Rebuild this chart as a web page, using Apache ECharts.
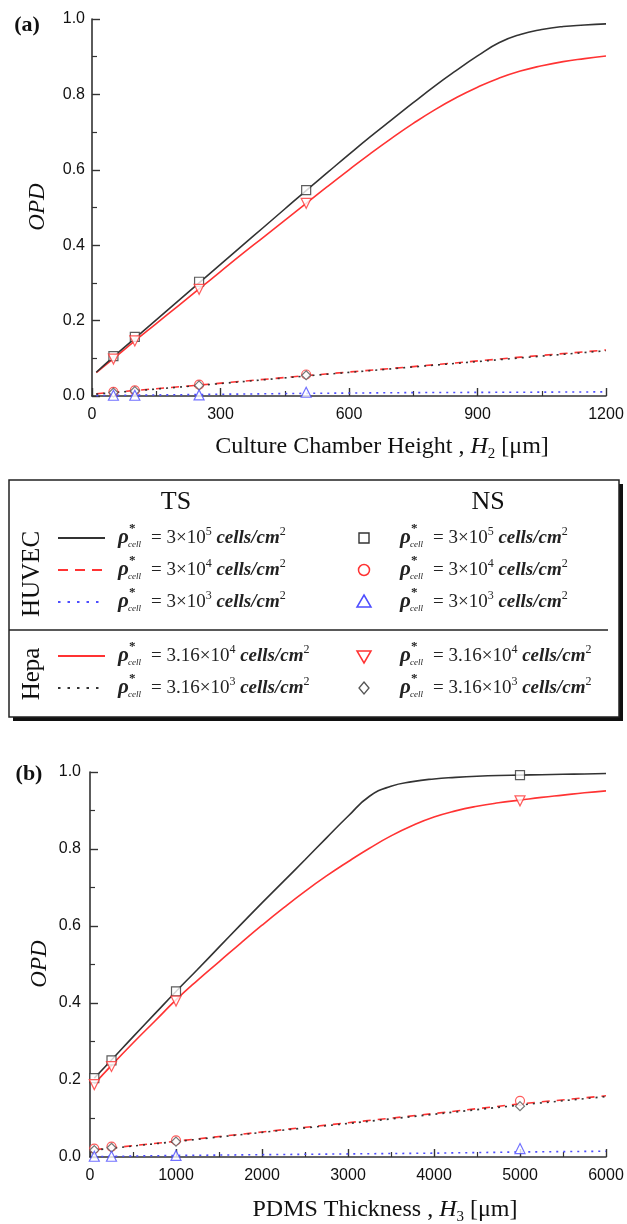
<!DOCTYPE html>
<html>
<head>
<meta charset="utf-8">
<title>OPD vs chamber height and PDMS thickness</title>
<script src="https://cdn.jsdelivr.net/npm/echarts@6/dist/echarts.min.js"></script>
<style>
  html, body { margin: 0; padding: 0; background: #fff; }
  #chart { width: 627px; height: 1224px; }
</style>
</head>
<body>
<div id="chart"></div>
<script>
// ---- (a) culture chamber height H2 [um] ----
const tsXA = [10, 50, 100, 150, 200, 250, 300, 350, 400, 450, 500, 550, 600, 650, 700, 750, 800, 850, 900, 950, 1000, 1050, 1100, 1150, 1200];
const huvec5TsA = [0.063, 0.104, 0.153, 0.202, 0.251, 0.300, 0.349, 0.398, 0.447, 0.496, 0.545, 0.593, 0.641, 0.688, 0.733, 0.778, 0.822, 0.863, 0.902, 0.937, 0.959, 0.972, 0.980, 0.984, 0.987];
const hepa4TsA = [0.062, 0.099, 0.146, 0.192, 0.238, 0.284, 0.330, 0.376, 0.421, 0.466, 0.511, 0.556, 0.600, 0.643, 0.684, 0.723, 0.759, 0.791, 0.819, 0.843, 0.862, 0.876, 0.887, 0.895, 0.902];
const lowXA = [10, 250, 500, 750, 1000, 1200];
const huvec4TsA = [0.006, 0.029, 0.054, 0.078, 0.103, 0.122];
const huvec3TsA = [0.001, 0.004, 0.007, 0.009, 0.010, 0.011];
const hepa3TsA = [0.005, 0.028, 0.053, 0.077, 0.101, 0.120];
const nsXA = [50, 100, 250, 500];
const huvec5NsA = [0.106, 0.157, 0.303, 0.546];
const huvec4NsA = [0.011, 0.015, 0.030, 0.057];
const huvec3NsA = [0.002, 0.002, 0.003, 0.010];
const hepa4NsA = [0.098, 0.146, 0.283, 0.511];
const hepa3NsA = [0.009, 0.013, 0.028, 0.055];

// ---- (b) PDMS thickness H3 [um] ----
const tsXB = [50, 250, 500, 750, 1000, 1250, 1500, 1750, 2000, 2250, 2500, 2750, 3000, 3250, 3500, 3750, 4000, 4250, 4500, 4750, 5000, 5250, 5500, 5750, 6000];
const huvec5TsB = [0.205, 0.252, 0.312, 0.371, 0.430, 0.487, 0.545, 0.603, 0.660, 0.716, 0.772, 0.829, 0.885, 0.937, 0.963, 0.975, 0.982, 0.986, 0.989, 0.991, 0.992, 0.993, 0.994, 0.995, 0.996];
const hepa4TsB = [0.190, 0.238, 0.296, 0.352, 0.408, 0.459, 0.507, 0.555, 0.602, 0.647, 0.690, 0.730, 0.767, 0.802, 0.834, 0.861, 0.883, 0.899, 0.911, 0.920, 0.927, 0.934, 0.940, 0.946, 0.951];
const lowXB = [50, 1000, 2000, 3000, 4000, 5000, 6000];
const huvec4TsB = [0.019, 0.041, 0.065, 0.089, 0.113, 0.138, 0.159];
const huvec3TsB = [0.001, 0.004, 0.006, 0.008, 0.010, 0.013, 0.015];
const hepa3TsB = [0.018, 0.040, 0.064, 0.087, 0.111, 0.135, 0.157];
const nsXB = [50, 250, 1000, 5000];
const huvec5NsB = [0.205, 0.251, 0.430, 0.992];
const huvec4NsB = [0.022, 0.027, 0.043, 0.146];
const huvec3NsB = [0.002, 0.002, 0.004, 0.022];
const hepa4NsB = [0.188, 0.235, 0.405, 0.925];
const hepa3NsB = [0.018, 0.024, 0.040, 0.132];

// legend texts
const legendMantissa = ['3', '3', '3', '3.16', '3.16'];
const legendExponent = ['5', '4', '3', '4', '3'];

const BLACK = '#333';
const RED = '#ff3333';
const BLUE = '#4d4dff';
const GRAY = '#555';
const SERIF = '"Liberation Serif", "DejaVu Serif", serif';
const SANS = '"Liberation Sans", Arial, sans-serif';

const zip = (xs, ys) => xs.map((x, i) => [x, ys[i]]);

function curve(xs, ys, color, dash, ai, smooth, z) {
  return {
    type: 'line', xAxisIndex: ai, yAxisIndex: ai,
    data: zip(xs, ys), symbol: 'none', smooth: smooth, silent: true, z: z || 2,
    lineStyle: { color: color, width: 1.6, type: dash }
  };
}
function marks(xs, ys, symbol, color, ai, rot, size) {
  return {
    type: 'scatter', xAxisIndex: ai, yAxisIndex: ai,
    data: zip(xs, ys), symbol: symbol, symbolSize: size || 9, symbolRotate: rot || 0,
    silent: true, z: 5,
    itemStyle: { color: '#fff', borderColor: color, borderWidth: 1.2 }
  };
}

function xAxisDef(ai, max, interval) {
  return {
    type: 'value', gridIndex: ai, min: 0, max: max, interval: interval,
    axisLine: { show: true, onZero: false, lineStyle: { color: BLACK, width: 1.6 } },
    axisTick: { show: true, inside: true, length: 8, lineStyle: { color: BLACK, width: 1.4 } },
    minorTick: { show: true, splitNumber: 2, length: 5, lineStyle: { color: BLACK, width: 1.2 } },
    axisLabel: { color: '#111', fontFamily: SANS, fontSize: 16, margin: 11, formatter: v => String(v) },
    splitLine: { show: false }
  };
}
function yAxisDef(ai, margin) {
  return {
    type: 'value', gridIndex: ai, min: 0, max: 1, interval: 0.2,
    axisLine: { show: true, onZero: false, lineStyle: { color: BLACK, width: 1.6 } },
    axisTick: { show: true, inside: true, length: 8, lineStyle: { color: BLACK, width: 1.4 } },
    minorTick: { show: true, splitNumber: 2, length: 5, lineStyle: { color: BLACK, width: 1.2 } },
    axisLabel: { color: '#111', fontFamily: SANS, fontSize: 16, margin: margin, formatter: v => v.toFixed(1) },
    splitLine: { show: false }
  };
}

function txt(x, y, text, opts) {
  const s = Object.assign({
    text: text, fontFamily: SERIF, fontSize: 24, fill: '#111',
    align: 'center', verticalAlign: 'middle', textAlign: 'center', textVerticalAlign: 'middle'
  }, opts || {});
  return { type: 'text', x: x, y: y, rotation: s.rot || 0, silent: true, style: s };
}

// rho*_cell = m x 10^e cells/cm^2
function rhoLabel(x, y, mant, exp) {
  const left = { align: 'left', textAlign: 'left' };
  return [
    txt(x, y, 'ρ', Object.assign({ fontSize: 21, fontStyle: 'italic', fontWeight: 'bold', fill: '#222' }, left)),
    txt(x + 11, y - 9, '*', Object.assign({ fontSize: 13, fontWeight: 'bold', fill: '#222' }, left)),
    txt(x + 10, y + 7, 'cell', Object.assign({ fontSize: 9, fontStyle: 'italic', fill: '#222' }, left)),
    txt(x + 33, y, '= ' + mant + '×10{sup|' + exp + '} {it|cells/cm}{sup|2}', Object.assign({
      fontSize: 19, fill: '#222', lineHeight: 24,
      rich: {
        sup: { fontFamily: SERIF, fontSize: 12, lineHeight: 12, verticalAlign: 'top', fill: '#222' },
        it: { fontFamily: SERIF, fontSize: 19, lineHeight: 24, fontStyle: 'italic', fontWeight: 'bold', fill: '#222' }
      }
    }, left))
  ];
}

function sampleLine(y, color, dash) {
  return { type: 'line', silent: true, shape: { x1: 58, y1: y, x2: 105, y2: y },
    style: { stroke: color, lineWidth: 1.8, lineDash: dash } };
}

const rowY = [538, 570, 602, 656, 688];
const symX = 364;
const legendEls = [
  { type: 'rect', silent: true, shape: { x: 13, y: 484, width: 610, height: 237 }, style: { fill: '#111' } },
  { type: 'rect', silent: true, shape: { x: 9, y: 480, width: 610, height: 237 }, style: { fill: '#fff', stroke: '#222', lineWidth: 1.5 } },
  { type: 'line', silent: true, shape: { x1: 9, y1: 630, x2: 608, y2: 630 }, style: { stroke: '#222', lineWidth: 1.5 } },
  txt(176, 502, 'TS', { fontSize: 26 }),
  txt(488, 502, 'NS', { fontSize: 26 }),
  txt(32, 574, 'HUVEC', { fontSize: 25, rot: Math.PI / 2 }),
  txt(32, 674, 'Hepa', { fontSize: 25, rot: Math.PI / 2 }),
  sampleLine(rowY[0], BLACK, null),
  sampleLine(rowY[1], RED, [10, 7]),
  sampleLine(rowY[2], BLUE, [2.5, 7]),
  sampleLine(rowY[3], RED, null),
  sampleLine(rowY[4], BLACK, [2.5, 7]),
  { type: 'rect', silent: true, shape: { x: symX - 5, y: rowY[0] - 5, width: 10, height: 10 }, style: { fill: '#fff', stroke: BLACK, lineWidth: 1.4 } },
  { type: 'circle', silent: true, shape: { cx: symX, cy: rowY[1], r: 5.5 }, style: { fill: '#fff', stroke: RED, lineWidth: 1.5 } },
  { type: 'polygon', silent: true, shape: { points: [[symX, rowY[2] - 7], [symX + 7, rowY[2] + 5], [symX - 7, rowY[2] + 5]] }, style: { fill: '#fff', stroke: BLUE, lineWidth: 1.5 } },
  { type: 'polygon', silent: true, shape: { points: [[symX, rowY[3] + 7], [symX + 7, rowY[3] - 5], [symX - 7, rowY[3] - 5]] }, style: { fill: '#fff', stroke: RED, lineWidth: 1.5 } },
  { type: 'polygon', silent: true, shape: { points: [[symX, rowY[4] - 6], [symX + 5, rowY[4]], [symX, rowY[4] + 6], [symX - 5, rowY[4]]] }, style: { fill: '#fff', stroke: GRAY, lineWidth: 1.3 } }
];
rowY.forEach((y, i) => {
  legendEls.push(...rhoLabel(118, y, legendMantissa[i], legendExponent[i]));
  legendEls.push(...rhoLabel(400, y, legendMantissa[i], legendExponent[i]));
});

const subRich = {
  i: { fontFamily: SERIF, fontSize: 24, fontStyle: 'italic', lineHeight: 30, fill: '#111' },
  s: { fontFamily: SERIF, fontSize: 15, lineHeight: 15, verticalAlign: 'bottom', fill: '#111' }
};

const chart = echarts.init(document.getElementById('chart'), null, { renderer: 'canvas' });
chart.setOption({
  animation: false,
  backgroundColor: '#fff',
  grid: [
    { left: 92, top: 19, width: 514, height: 377 },
    { left: 90, top: 772, width: 516, height: 385 }
  ],
  xAxis: [xAxisDef(0, 1200, 300), xAxisDef(1, 6000, 1000)],
  yAxis: [yAxisDef(0, 7), yAxisDef(1, 9)],
  graphic: { elements: [
    txt(27, 25, '(a)', { fontSize: 22, fontWeight: 'bold' }),
    txt(29, 774, '(b)', { fontSize: 22, fontWeight: 'bold' }),
    txt(38, 207, 'OPD', { fontSize: 23, fontStyle: 'italic', rot: Math.PI / 2 }),
    txt(40, 964, 'OPD', { fontSize: 23, fontStyle: 'italic', rot: Math.PI / 2 }),
    txt(382, 447, 'Culture Chamber Height , {i|H}{s|2} [μm]', { lineHeight: 30, rich: subRich }),
    txt(385, 1210, 'PDMS Thickness , {i|H}{s|3} [μm]', { lineHeight: 30, rich: subRich })
  ].concat(legendEls) },
  series: [
    // (a) TS curves
    curve(lowXA, huvec4TsA, RED, [8, 7], 0, false, 2),
    curve(lowXA, hepa3TsA, BLACK, [2, 5], 0, false, 3),
    curve(lowXA, huvec3TsA, BLUE, [2, 5], 0, false, 2),
    curve(tsXA, hepa4TsA, RED, 'solid', 0, 0.5, 2),
    curve(tsXA, huvec5TsA, BLACK, 'solid', 0, 0.5, 3),
    // (a) NS points
    marks(nsXA, huvec5NsA, 'rect', BLACK, 0),
    marks(nsXA, hepa4NsA, 'triangle', RED, 0, 180, 10),
    marks(nsXA, huvec4NsA, 'circle', RED, 0),
    marks(nsXA, hepa3NsA, 'diamond', GRAY, 0, 0, 9),
    marks(nsXA, huvec3NsA, 'triangle', BLUE, 0, 0, 10),
    // (b) TS curves
    curve(lowXB, huvec4TsB, RED, [8, 7], 1, false, 2),
    curve(lowXB, hepa3TsB, BLACK, [2, 5], 1, false, 3),
    curve(lowXB, huvec3TsB, BLUE, [2, 5], 1, false, 2),
    curve(tsXB, hepa4TsB, RED, 'solid', 1, 0.5, 2),
    curve(tsXB, huvec5TsB, BLACK, 'solid', 1, 0.5, 3),
    // (b) NS points
    marks(nsXB, huvec5NsB, 'rect', BLACK, 1),
    marks(nsXB, hepa4NsB, 'triangle', RED, 1, 180, 10),
    marks(nsXB, huvec4NsB, 'circle', RED, 1),
    marks(nsXB, hepa3NsB, 'diamond', GRAY, 1, 0, 9),
    marks(nsXB, huvec3NsB, 'triangle', BLUE, 1, 0, 10)
  ]
});
window.addEventListener('resize', () => chart.resize());
</script>
</body>
</html>
